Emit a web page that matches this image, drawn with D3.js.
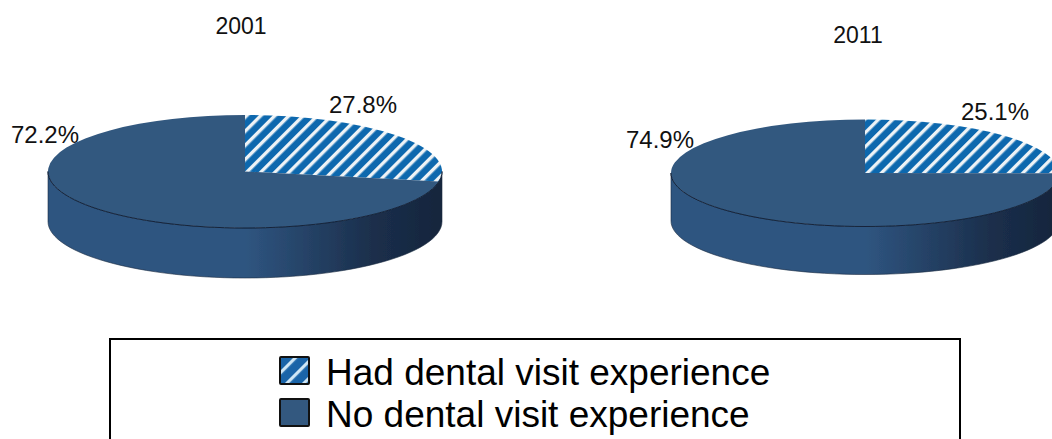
<!DOCTYPE html>
<html><head><meta charset="utf-8">
<script src="https://cdnjs.cloudflare.com/ajax/libs/d3/7.8.5/d3.min.js"></script>
<style>html,body{margin:0;padding:0;background:#fff;overflow:hidden}svg{display:block}text{font-family:"Liberation Sans",Arial,sans-serif;fill:#111}</style>
</head><body><svg id="c" width="1052" height="439"></svg>
<script>
const years = ["2001","2011"];
const categories = ["Had dental visit experience","No dental visit experience"];
const had = [27.8,25.1];
const none = [72.2,74.9];
const labelsHad = ["27.8%","25.1%"];
const labelsNo = ["72.2%","74.9%"];
const layout = [
 {cx:245,cy:171.5,rx:197,ry:56.5,d:50,tx:241,ty:34,lh:[363,113],ln:[45,143]},
 {cx:865,cy:173,rx:194,ry:53.5,d:48,tx:858,ty:43,lh:[995,120],ln:[660,148]}
];
const svg = d3.select("#c");
const defs = svg.append("defs");
const pl = defs.append("pattern").attr("id","hatchL").attr("patternUnits","userSpaceOnUse")
 .attr("width",12).attr("height",12).attr("patternTransform","rotate(45)");
pl.append("rect").attr("width",12).attr("height",12).attr("fill","#1a64a8");
pl.append("rect").attr("width",3.2).attr("height",12).attr("fill","#cfe6f5");
const g = defs.append("linearGradient").attr("id","side");
[[0,"#2f5580"],[0.5,"#2f5580"],[0.82,"#1b2f4c"],[1,"#15253c"]].forEach(s=>g.append("stop").attr("offset",s[0]).attr("stop-color",s[1]));
defs.append("filter").attr("id","soft").append("feGaussianBlur").attr("stdDeviation",0.45);

const pie = d3.pie().sort(null).value(d=>d);
years.forEach((y,i)=>{
 const L = layout[i];
 const pat = defs.append("pattern").attr("id","hatch"+i).attr("patternUnits","userSpaceOnUse")
  .attr("width",10).attr("height",10).attr("patternTransform",`scale(1,${L.rx/L.ry}) rotate(45)`);
 pat.append("rect").attr("width",10).attr("height",10).attr("fill","#0b68ae");
 pat.append("rect").attr("width",3.4).attr("height",10).attr("fill","#eef3f6");
 const root = svg.append("g").attr("filter","url(#soft)");
 const sx = d3.scaleLinear().domain([-1,1]).range([L.cx-L.rx,L.cx+L.rx]);
 const sy = d3.scaleLinear().domain([-1,1]).range([L.cy-L.ry,L.cy+L.ry]);
 const ang = d3.range(0,181,3).map(a=>a*Math.PI/180);
 const area = d3.area().x(a=>sx(Math.cos(a))).y0(a=>sy(Math.sin(a))).y1(a=>sy(Math.sin(a))+L.d);
 root.append("path").datum(ang).attr("d",area).attr("fill","url(#side)").attr("stroke","#1a2a40").attr("stroke-width",0.6);
 const arcs = pie([had[i],none[i]]);
 const arc = d3.arc().innerRadius(0).outerRadius(L.rx);
 const top = root.append("g").attr("transform",`translate(${L.cx},${L.cy}) scale(1,${L.ry/L.rx})`);
 top.selectAll("path").data(arcs).join("path").attr("d",arc)
   .attr("fill",(d,j)=>j===0?`url(#hatch${i})`:"#33587f");
 const rim = d3.line().x(a=>sx(Math.cos(a))).y(a=>sy(Math.sin(a)));
 root.append("path").datum(ang).attr("d",rim).attr("fill","none").attr("stroke","#14233a").attr("stroke-width",1);
 const t = svg.append("g");
 t.append("text").attr("x",L.tx).attr("y",L.ty).attr("text-anchor","middle").attr("font-size",23).text(y);
 t.append("text").attr("x",L.lh[0]).attr("y",L.lh[1]).attr("text-anchor","middle").attr("font-size",24).text(labelsHad[i]);
 t.append("text").attr("x",L.ln[0]).attr("y",L.ln[1]).attr("text-anchor","middle").attr("font-size",24).text(labelsNo[i]);
});
svg.append("rect").attr("x",110).attr("y",339).attr("width",850).attr("height",103).attr("fill","#fff").attr("stroke","#000").attr("stroke-width",2);
const ly = d3.scalePoint().domain(categories).range([371,413]);
const leg = svg.selectAll("g.leg").data(categories).join("g").attr("class","leg").attr("transform",d=>`translate(280,${ly(d)})`);
leg.append("rect").attr("x",0).attr("y",-14).attr("width",29).attr("height",27).attr("rx",1)
 .attr("fill",(d,i)=>i===0?"url(#hatchL)":"#33587f").attr("stroke","#111").attr("stroke-width",2);
leg.append("text").attr("x",46).attr("y",14).attr("font-size",37).style("fill","#000").text(d=>d);
</script></body></html>
